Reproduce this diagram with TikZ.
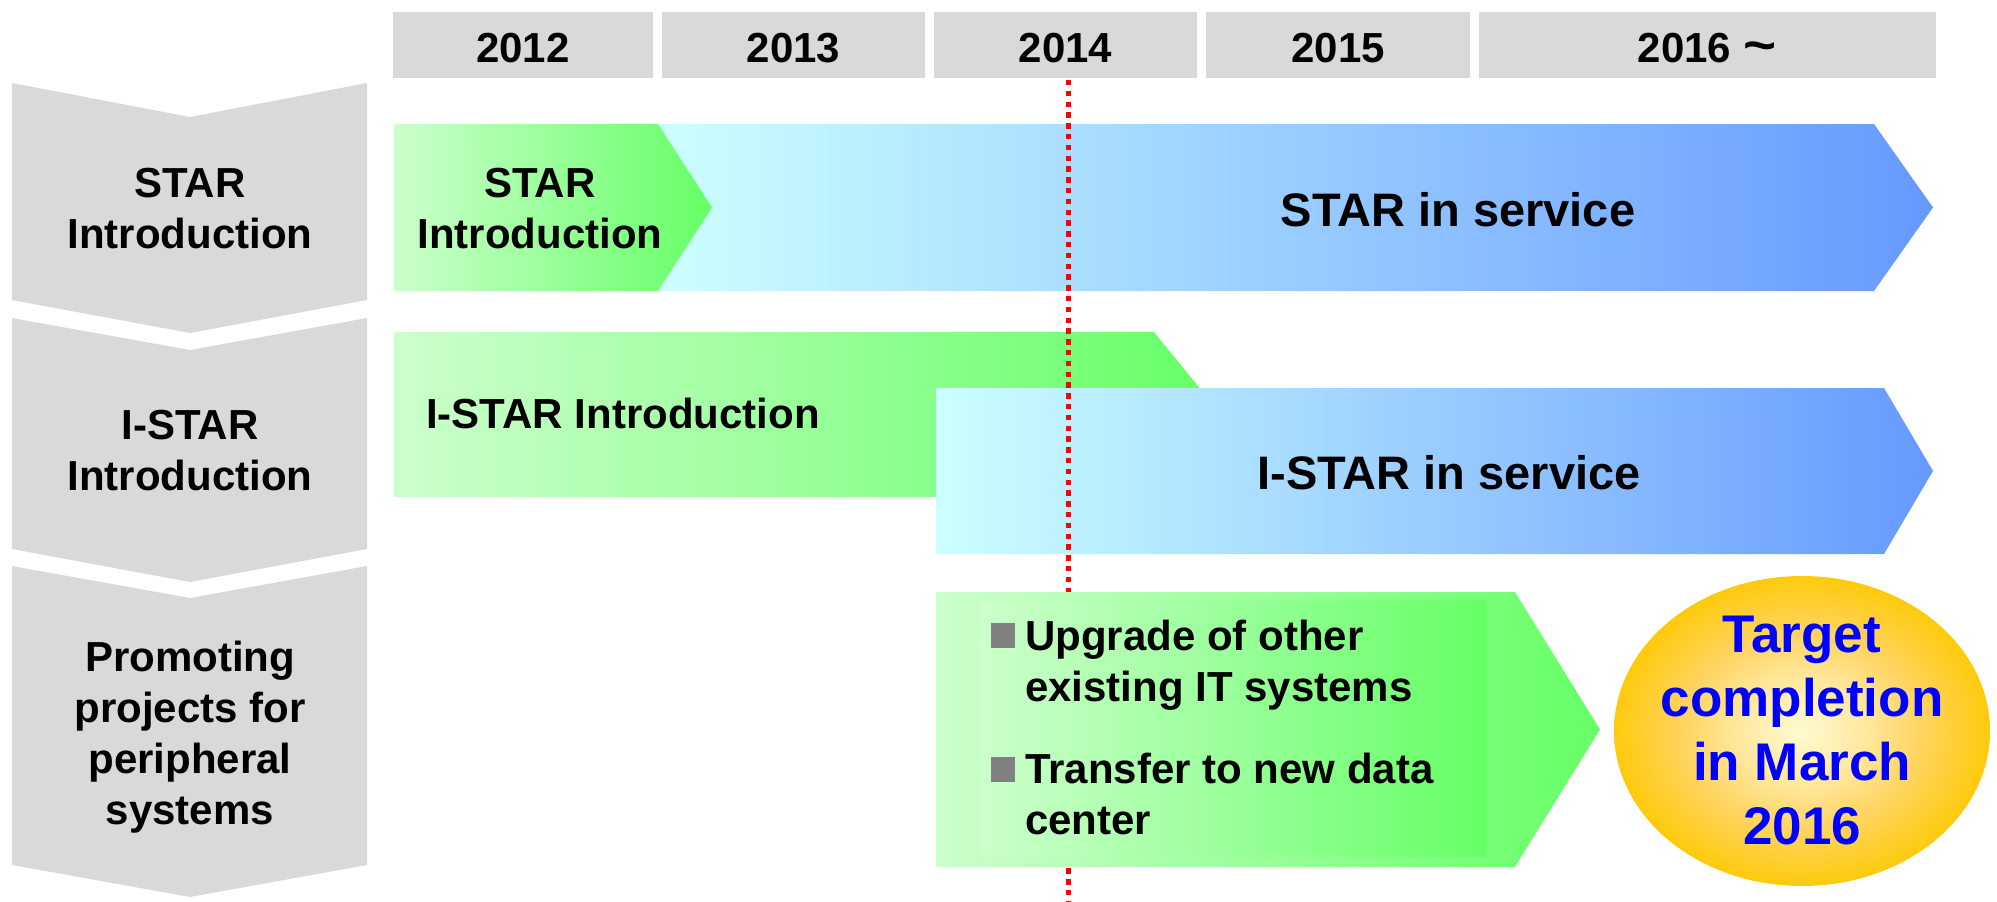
\documentclass[tikz,border=0pt]{standalone}
\usepackage{fontspec}
\setmainfont{Liberation Sans}
\definecolor{panel}{HTML}{D9D9D9}
\definecolor{grnL}{HTML}{CCFFCC}
\definecolor{grnR}{HTML}{66FF66}
\definecolor{bluL}{HTML}{CCFFFF}
\definecolor{bluR}{HTML}{6699FF}
\definecolor{bulletgray}{HTML}{808080}
\definecolor{goalblue}{HTML}{0000FF}
\definecolor{tgtIn}{HTML}{FFFBD2}
\definecolor{tgtMidA}{HTML}{FFE9A2}
\definecolor{tgtMidB}{HTML}{FFD45E}
\definecolor{tgtOut}{HTML}{FFCA0C}
\pgfdeclareradialshading{glow}{\pgfpoint{0bp}{0bp}}{%
  color(0bp)=(tgtIn); color(8bp)=(tgtMidA); color(16bp)=(tgtMidB);
  color(25bp)=(tgtOut); color(50bp)=(tgtOut)}
\begin{document}
\begin{tikzpicture}[x=1pt,y=-1pt,
  lbl/.style={font=\fontsize{42}{51}\selectfont\bfseries, inner sep=0pt, align=center},
  yearlbl/.style={font=\fontsize{42}{51}\selectfont\bfseries, inner sep=0pt, anchor=base},
  svc/.style={font=\fontsize{47}{56}\selectfont\bfseries, inner sep=0pt, anchor=base},
  itemtext/.style={font=\fontsize{42}{51}\selectfont\bfseries, inner sep=0pt, align=left, anchor=west},
  goal/.style={font=\fontsize{53}{64}\selectfont\bfseries, inner sep=0pt, align=center, text=goalblue},
  greenbar/.style={left color=grnL, right color=grnR},
  bluebar/.style={left color=bluL, right color=bluR},
  marker/.style={draw=red, line width=5pt, dash pattern=on 5.4pt off 5.4pt}]
\useasboundingbox (0,0) rectangle (1997,902);

% row headers (chevrons)
\fill[panel] (12,83) -- (190,117) -- (367,83) -- (367,300) -- (190,333) -- (12,300) -- cycle;
\fill[panel] (12,318) -- (190,350) -- (367,318) -- (367,549) -- (190,582) -- (12,549) -- cycle;
\fill[panel] (12,566) -- (190,598) -- (367,566) -- (367,865) -- (190,897) -- (12,865) -- cycle;

% year header boxes
\fill[panel] (393,12) rectangle (653,78);
\fill[panel] (662,12) rectangle (925,78);
\fill[panel] (934,12) rectangle (1197,78);
\fill[panel] (1206,12) rectangle (1470,78);
\fill[panel] (1479,12) rectangle (1936,78);
\node[yearlbl] (y2012) at (523,62) {2012};
\node[yearlbl] (y2013) at (793.5,62) {2013};
\node[yearlbl] (y2014) at (1065.5,62) {2014};
\node[yearlbl] (y2015) at (1338,62) {2015};
\node[yearlbl] (y2016) at (1707,62) {2016 \scalebox{1.35}[1.2]{\textasciitilde}};

% row 1: STAR
\shade[bluebar] (658,124) -- (1874,124) -- (1933,207.5) -- (1874,291) -- (658,291) -- cycle;
\shade[greenbar] (394,124) -- (658,124) -- (712,207.5) -- (658,291) -- (394,291) -- cycle;

% row 2: I-STAR
\shade[greenbar] (394,332) -- (1154,332) -- (1221,414.5) -- (1154,497) -- (394,497) -- cycle;
\shade[bluebar] (936,388) -- (1884,388) -- (1933,471) -- (1884,554) -- (936,554) -- cycle;

% cut-over date marker
\coordinate (marktop) at (1068,80);
\coordinate (markbot) at (1068,902);
\draw[marker] (marktop) -- (markbot);

% row 3: peripheral systems
\shade[greenbar] (936,592) -- (1515,592) -- (1600,729.5) -- (1515,867) -- (936,867) -- cycle;
\shade[greenbar] (979,600) rectangle (1487,856);
\fill[bulletgray] (991,623) rectangle (1015,648);
\fill[bulletgray] (991,757) rectangle (1015,782);

% target bubble
\shade[shading=glow] (1802,731) ellipse [x radius=188pt, y radius=155pt];

% labels
\node[lbl] (h1) at (190,208.5) {STAR\\Introduction};
\node[lbl] (h2) at (190,450.5) {I-STAR\\Introduction};
\node[lbl] (h3) at (190,737) {Promoting\\projects for\\peripheral\\systems};

\node[lbl] (starintro) at (540,208.5) {STAR\\Introduction};
\node[svc] (starsvc) at (1458,226) {STAR in service};
\node[lbl, anchor=base west] (istarintro) at (426,428) {I-STAR Introduction};
\node[svc] (istarsvc) at (1449,489) {I-STAR in service};

\node[itemtext] (item1) at (1025,665) {Upgrade of other\\existing IT systems};
\node[itemtext] (item2) at (1025,793.5) {Transfer to new data\\center};

\node[goal] (target) at (1802,730.5) {Target\\completion\\in March\\2016};
\end{tikzpicture}
\end{document}
